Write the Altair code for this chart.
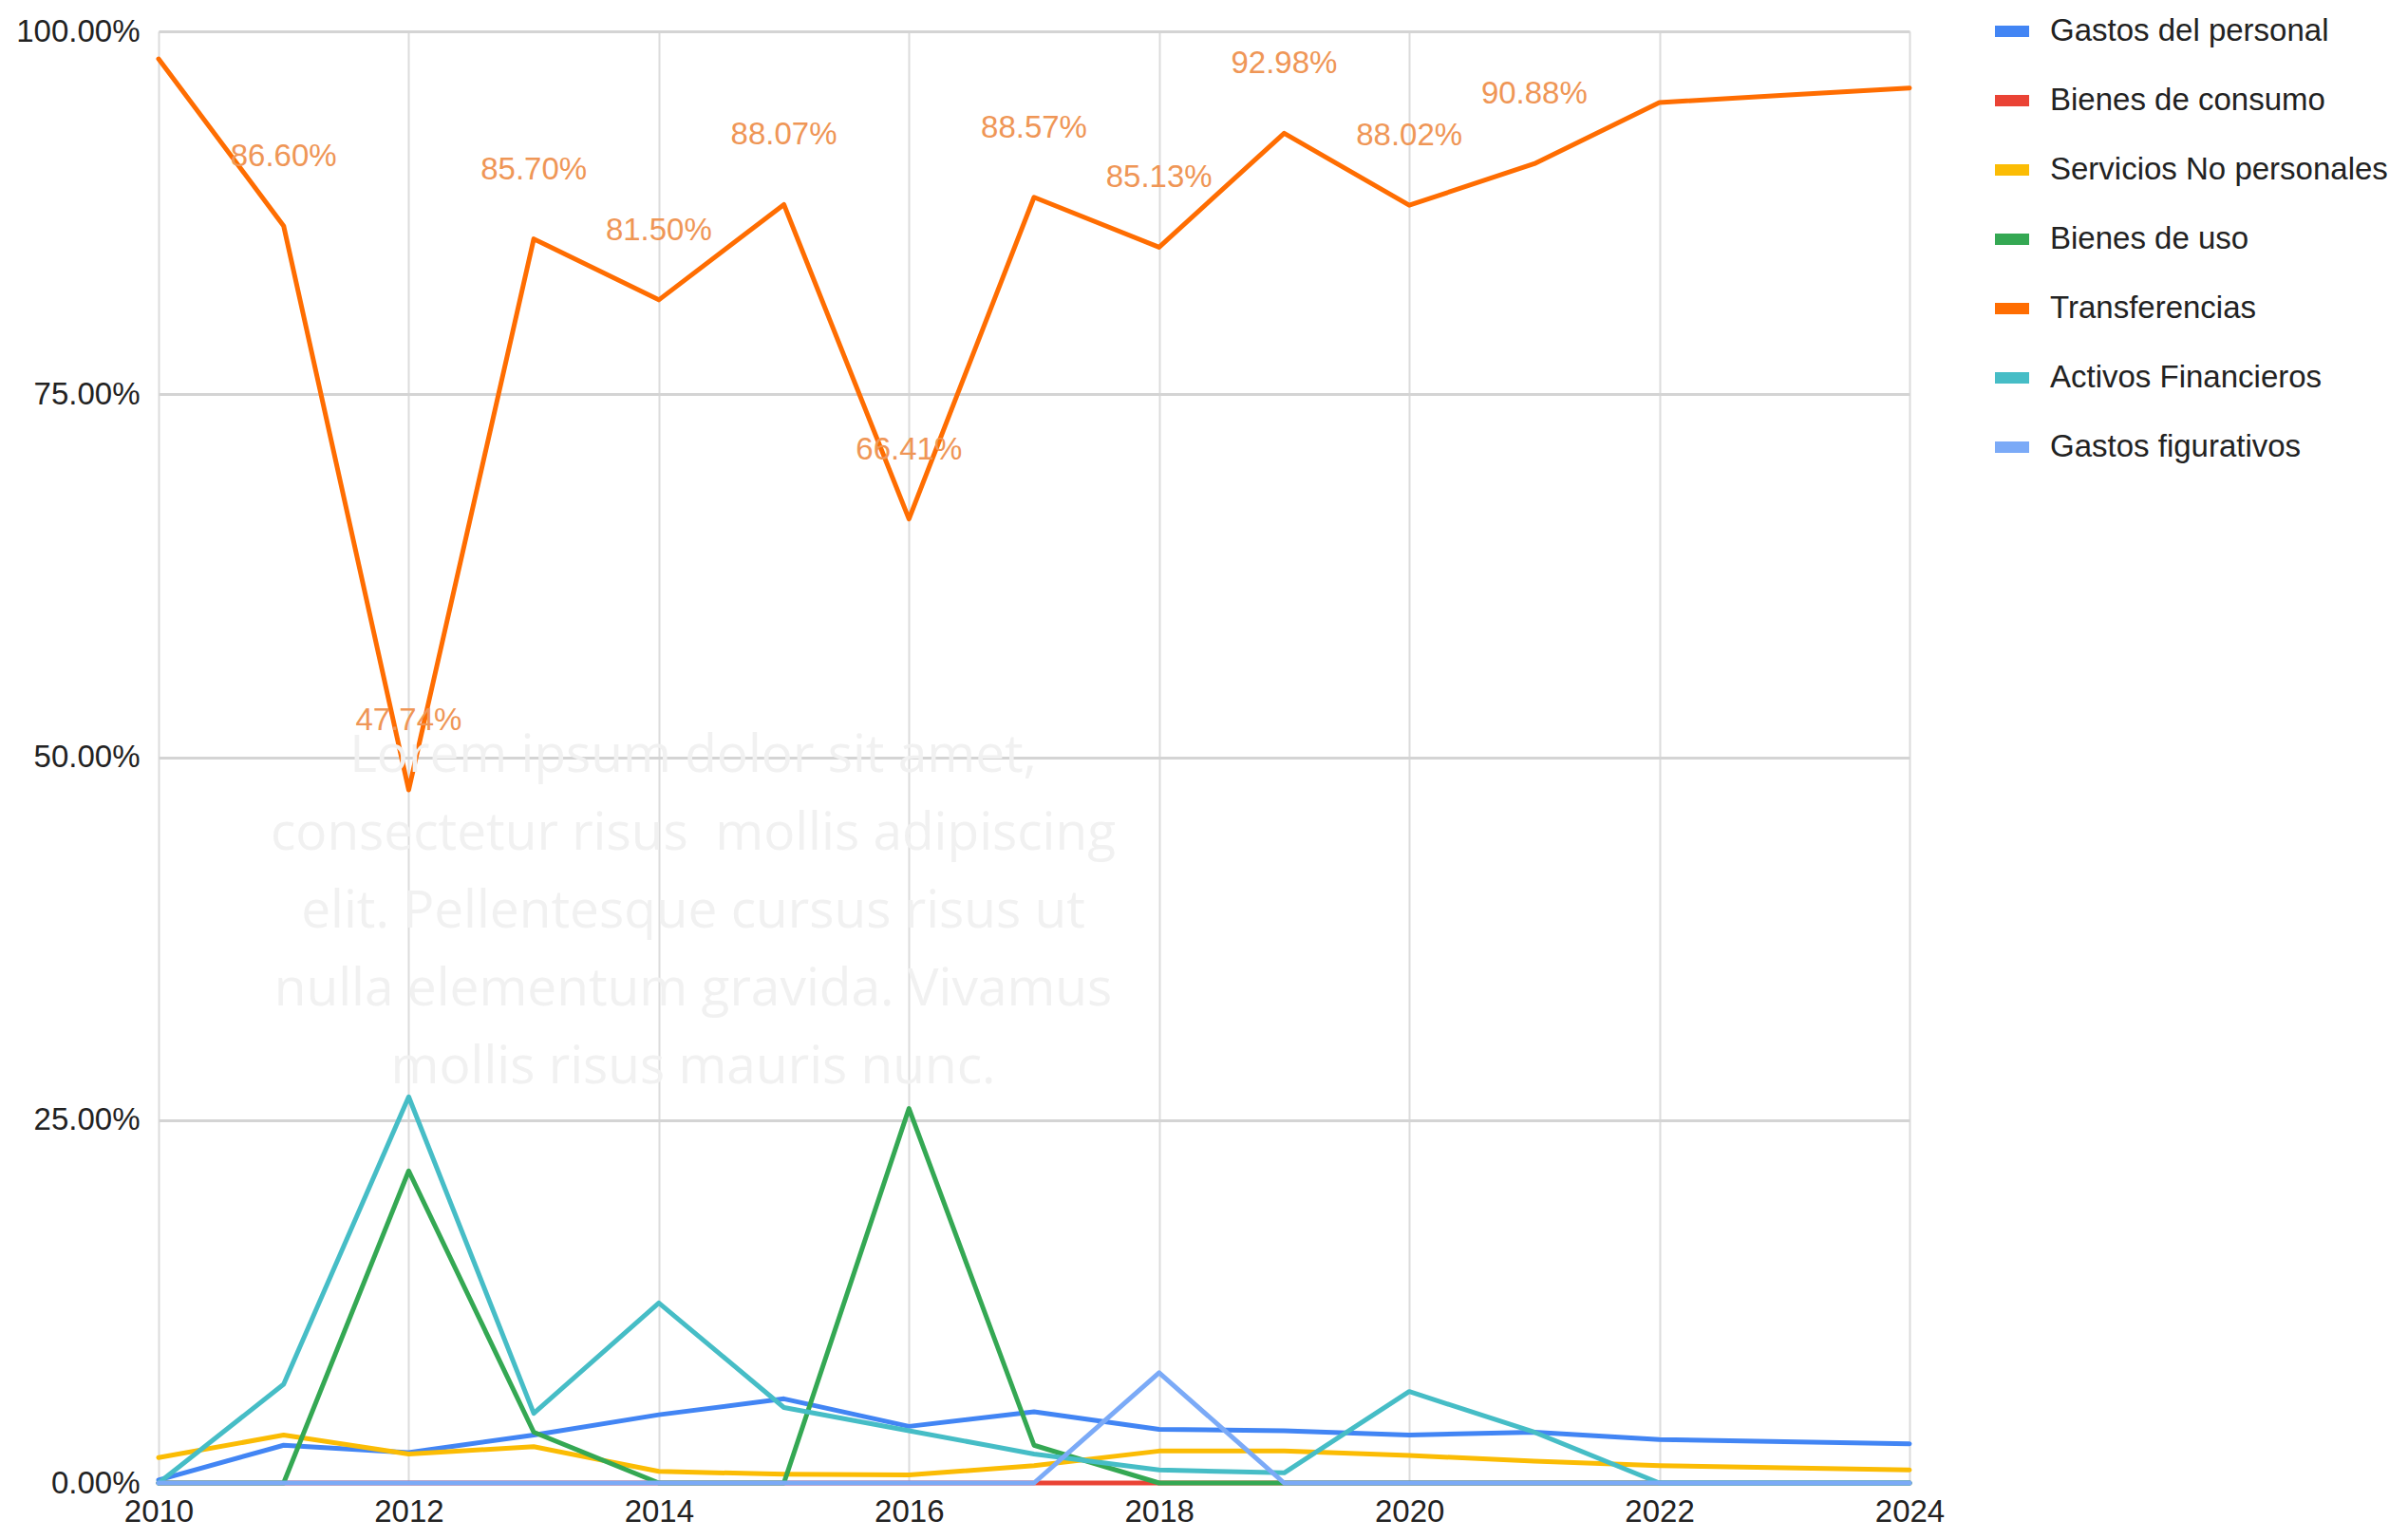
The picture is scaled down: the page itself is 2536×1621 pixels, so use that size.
import altair as alt
import pandas as pd

years = list(range(2010, 2025))

series_names = [
    "Gastos del personal",
    "Bienes de consumo",
    "Servicios No personales",
    "Bienes de uso",
    "Transferencias",
    "Activos Financieros",
    "Gastos figurativos",
]
series_colors = ["#4285F4", "#EA4335", "#FBBC04", "#34A853", "#FF6D01", "#46BDC6", "#7BAAF7"]

# values in percent
gastos_personal = [0.2, 2.6, 2.1, 3.3, 4.7, 5.8, 3.9, 4.9, 3.7, 3.6, 3.3, 3.5, 3.0, 2.85, 2.7]
bienes_consumo = [0, 0, 0, 0, 0, 0, 0, 0, 0, 0, 0, 0, 0, 0, 0]
servicios_no_personales = [1.75, 3.3, 2.0, 2.5, 0.8, 0.6, 0.55, 1.2, 2.2, 2.2, 1.9, 1.5, 1.2, 1.05, 0.9]
bienes_de_uso = [0, 0, 21.5, 3.5, 0, 0, 25.8, 2.6, 0, 0, 0, 0, 0, 0, 0]
transferencias = [98.1, 86.60, 47.74, 85.70, 81.50, 88.07, 66.41, 88.57, 85.13, 92.98, 88.02, 90.88, 95.1, 95.6, 96.1]
activos_financieros = [0, 6.8, 26.6, 4.8, 12.4, 5.2, 3.6, 2.0, 0.9, 0.7, 6.3, 3.5, 0, 0, 0]
gastos_figurativos = [0, 0, 0, 0, 0, 0, 0, 0, 7.6, 0, 0, 0, 0, 0, 0]

labelled_years = [2011, 2012, 2013, 2014, 2015, 2016, 2017, 2018, 2019, 2020, 2021]

watermark = ("Lorem ipsum dolor sit amet,\nconsectetur risus \u00a0mollis adipiscing\n"
             "elit. Pellentesque cursus risus ut\nnulla elementum gravida. Vivamus\n"
             "mollis risus mauris nunc.")

all_values = [gastos_personal, bienes_consumo, servicios_no_personales, bienes_de_uso,
              transferencias, activos_financieros, gastos_figurativos]

rows = []
for name, vals in zip(series_names, all_values):
    for y, v in zip(years, vals):
        rows.append({"year": y, "serie": name, "value": v / 100.0})
df = pd.DataFrame(rows)

lab_df = pd.DataFrame({
    "year": labelled_years,
    "value": [transferencias[years.index(y)] / 100.0 for y in labelled_years],
})

FONT = "Liberation Sans"

x_enc = alt.X("year:Q", scale=alt.Scale(domain=[2010, 2024], nice=False, zero=False),
              axis=alt.Axis(values=list(range(2010, 2025, 2)), format="d", title=None,
                            labelFontSize=33, labelFont=FONT, labelColor="#222222",
                            labelPadding=14, ticks=False, domain=False,
                            grid=True, gridColor="#dcdcdc", gridWidth=2,
                            labelFlush=False))
y_enc = alt.Y("value:Q", scale=alt.Scale(domain=[0, 1], nice=False),
              axis=alt.Axis(values=[0, 0.25, 0.5, 0.75, 1.0], format=".2%", title=None,
                            labelFontSize=33, labelFont=FONT, labelColor="#222222",
                            labelPadding=20, ticks=False, domain=False,
                            grid=True, gridColor="#d4d4d4", gridWidth=3))

color_enc = alt.Color("serie:N",
                      scale=alt.Scale(domain=series_names, range=series_colors),
                      sort=series_names,
                      legend=alt.Legend(title=None, orient="none", legendX=1928, legendY=-24,
                                        symbolType="M-1,0H1", symbolSize=1296,
                                        symbolStrokeWidth=12, labelFontSize=33, labelFont=FONT,
                                        labelColor="#222222", labelOffset=16, rowPadding=25,
                                        padding=0, labelLimit=700))

layers = []
for name in series_names:
    layers.append(
        alt.Chart(df).transform_filter(alt.datum.serie == name)
        .mark_line(strokeWidth=5, strokeJoin="round", strokeCap="round")
        .encode(x=x_enc, y=y_enc, color=color_enc)
    )

labels = alt.Chart(lab_df).mark_text(
    fontSize=33, font=FONT, color="#ef9656", dy=-73, baseline="middle", align="center"
).encode(x="year:Q", y="value:Q", text=alt.Text("value:Q", format=".2%"))

wm_df = pd.DataFrame({"t": [watermark]})
wm = alt.Chart(wm_df).mark_text(
    font="Open Sans", fontSize=55, color="#f1f1f1", align="center", baseline="top",
    lineBreak="\n", lineHeight=82
).encode(x=alt.value(563), y=alt.value(737), text="t:N")

chart = alt.layer(*layers, labels, wm).properties(
    width=1844, height=1529,
    padding={"left": 159, "top": 25, "right": 517, "bottom": 50},
    autosize=alt.AutoSizeParams(type="none"),
).configure_view(stroke=None).configure(background="white")

chart.save("out.html", embed_options={"renderer": "svg", "actions": False})
